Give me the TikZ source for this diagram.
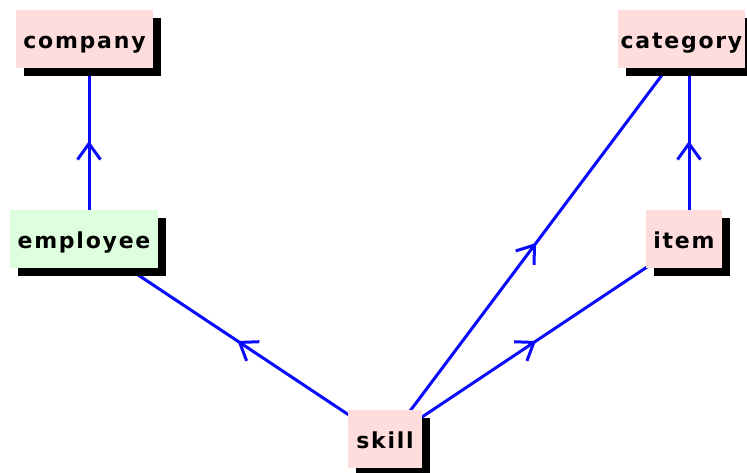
\documentclass[tikz,border=0pt]{standalone}
\usepackage{fontspec}
\setmainfont{DejaVu Sans}
\newfontfamily\boxfont[LetterSpace=8]{DejaVu Sans Bold}
\usetikzlibrary{shadows,decorations.markings,arrows.meta}
\definecolor{pinkfill}{RGB}{255,221,221}
\definecolor{greenfill}{RGB}{222,255,222}
\definecolor{linkblue}{RGB}{10,10,255}
\pgfdeclarelayer{bg}
\pgfsetlayers{bg,main}
\begin{document}
\begin{tikzpicture}[x=1pt,y=-1pt,
  ent/.style={fill=pinkfill, inner sep=0pt, minimum height=58pt,
    text height=20pt, text depth=2pt,
    font=\boxfont\fontsize{22}{22}\selectfont,
    general shadow={fill=black, shadow xshift=8pt, shadow yshift=-8pt}},
  link/.style={draw=linkblue, line width=3pt, postaction={decorate},
    decoration={markings, mark=at position 0.49 with {\arrow{Straight Barb[length=16pt,width=23pt,line width=3pt]}}}}]
\useasboundingbox (0,0) rectangle (747,472);
\node[ent, minimum width=137pt] (company) at (84.5,39) {company};
\node[ent, minimum width=127pt] (category) at (681.5,39) {category};
\node[ent, fill=greenfill, minimum width=148pt] (employee) at (84,239) {employee};
\node[ent, minimum width=76pt] (item) at (684,239) {item};
\node[ent, minimum width=74pt] (skill) at (385,439) {skill};
\begin{pgfonlayer}{bg}
\fill[white] (0,0) rectangle (747,472);
\draw[link] ([xshift=5pt]employee.center) -- ([xshift=4.5pt]company.center);
\draw[link] (skill.center) -- (employee.center);
\draw[link] ([xshift=4pt]skill.center) -- ([xshift=7.5pt]category.center);
\draw[link] ([xshift=4pt]skill.center) -- ([xshift=5pt]item.center);
\draw[link] ([xshift=5pt]item.center) -- ([xshift=7.5pt]category.center);
\end{pgfonlayer}
\end{tikzpicture}
\end{document}
